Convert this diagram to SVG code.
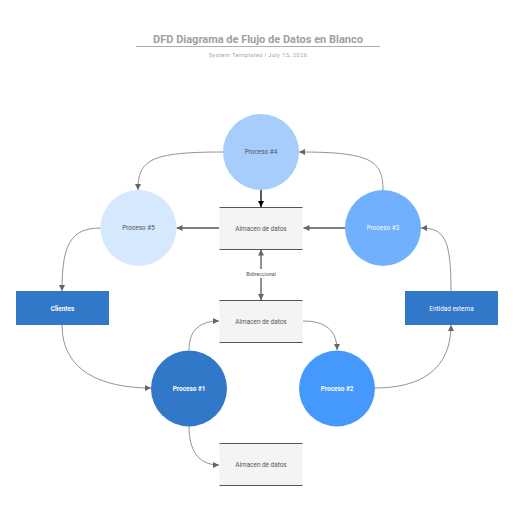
<svg xmlns="http://www.w3.org/2000/svg" width="516" height="516" viewBox="0 0 516 516">
<style>
.t{font-family:Roboto,"Liberation Sans",sans-serif;text-anchor:middle;dominant-baseline:central}
.lbl{font-size:6.4px;fill:#555}
.wl{font-size:6.4px;fill:#fff;font-weight:bold}
.c{fill:none;stroke:#777;stroke-width:0.8}
.s{fill:none;stroke:#555;stroke-width:1.3}
.store{fill:#f4f4f4}
.sl{stroke:#555;stroke-width:1.2}
</style>
<defs>
<marker id="a" viewBox="0 0 10 10" refX="10" refY="5" markerWidth="6" markerHeight="6" markerUnits="userSpaceOnUse" orient="auto-start-reverse"><path d="M0,0L10,5L0,10z" fill="#666"/></marker>
<marker id="ak" viewBox="0 0 10 10" refX="10" refY="5" markerWidth="6" markerHeight="6" markerUnits="userSpaceOnUse" orient="auto"><path d="M0,0L10,5L0,10z" fill="#000"/></marker>
</defs>
<rect width="516" height="516" fill="#fff"/>
<g id="title">
<text class="t" x="258" y="39.5" style="font-size:11px;font-weight:bold;fill:#a0a0a0">DFD Diagrama de Flujo de Datos en Blanco</text>
<line x1="136" y1="46.5" x2="380" y2="46.5" stroke="#999" stroke-width="0.8"/>
<text class="t" x="258" y="54" style="font-size:6px;fill:#aaa;letter-spacing:0.3px">System Templates  |  July 15, 2026</text>
</g>
<g id="connectors">
<line x1="261" y1="190" x2="261" y2="207" stroke="#000" stroke-width="1.3" marker-end="url(#ak)"/>
<line class="s" x1="219" y1="228" x2="176.5" y2="228" marker-end="url(#a)"/>
<line class="s" x1="345" y1="228" x2="303.5" y2="228" marker-end="url(#a)"/>
<line class="s" x1="261" y1="249.5" x2="261" y2="300" marker-start="url(#a)" marker-end="url(#a)"/>
<path class="c" d="M383,190 C383,160 370,152 299,152" marker-end="url(#a)"/>
<path class="c" d="M223,152 C150,152 138,160 138,190" marker-end="url(#a)"/>
<path class="c" d="M101,228 C70,228 62,245 62,291" marker-end="url(#a)"/>
<path class="c" d="M62,325 C62,370 100,388 151,388" marker-end="url(#a)"/>
<path class="c" d="M189,350 C189,330 200,321 219,321" marker-end="url(#a)"/>
<path class="c" d="M303,321 C325,321 337,330 337,350" marker-end="url(#a)"/>
<path class="c" d="M375,388 C420,388 451,370 451,325" marker-end="url(#a)"/>
<path class="c" d="M451,291 C451,240 445,228 421,228" marker-end="url(#a)"/>
<path class="c" d="M189,426 C189,450 198,465 219,465" marker-end="url(#a)"/>
<rect x="242" y="269" width="38" height="9" fill="#fff"/>
<text class="t" x="261" y="274" style="font-size:5.2px;fill:#555">Bidireccional</text>
</g>
<g id="p4"><circle cx="261" cy="152" r="38" fill="#a6cdfc"/><text class="t lbl" x="261" y="152">Proceso #4</text></g>
<g id="p5"><circle cx="138.5" cy="228" r="38" fill="#d6e8fd"/><text class="t lbl" x="138.5" y="228">Proceso #5</text></g>
<g id="p3"><circle cx="383" cy="228" r="38" fill="#70b0fd"/><text class="t wl" x="383" y="228" style="font-weight:normal">Proceso #3</text></g>
<g id="p1"><circle cx="189" cy="388.5" r="38" fill="#3278c9"/><text class="t wl" x="189" y="388.5">Proceso #1</text></g>
<g id="p2"><circle cx="337" cy="388.5" r="38" fill="#4599fd"/><text class="t wl" x="337" y="388.5">Proceso #2</text></g>
<g id="store1"><rect class="store" x="219.5" y="207.5" width="83" height="42"/><line class="sl" x1="219.5" y1="207.5" x2="302.5" y2="207.5"/><line class="sl" x1="219.5" y1="249.5" x2="302.5" y2="249.5"/><text class="t lbl" x="261" y="228.5">Almacen de datos</text></g>
<g id="store2"><rect class="store" x="219.5" y="300.5" width="83" height="42"/><line class="sl" x1="219.5" y1="300.5" x2="302.5" y2="300.5"/><line class="sl" x1="219.5" y1="342.5" x2="302.5" y2="342.5"/><text class="t lbl" x="261" y="321.5">Almacen de datos</text></g>
<g id="store3"><rect class="store" x="219.5" y="443.5" width="83" height="42"/><line class="sl" x1="219.5" y1="443.5" x2="302.5" y2="443.5"/><line class="sl" x1="219.5" y1="485.5" x2="302.5" y2="485.5"/><text class="t lbl" x="261" y="465">Almacen de datos</text></g>
<g id="clientes"><rect x="16" y="291" width="93" height="34" fill="#3278c9"/><text class="t wl" x="62.5" y="308.5">Clientes</text></g>
<g id="entidad"><rect x="405" y="291" width="93" height="34" fill="#3278c9"/><text class="t wl" x="451.5" y="308.5" style="font-weight:normal">Entidad externa</text></g>
</svg>
